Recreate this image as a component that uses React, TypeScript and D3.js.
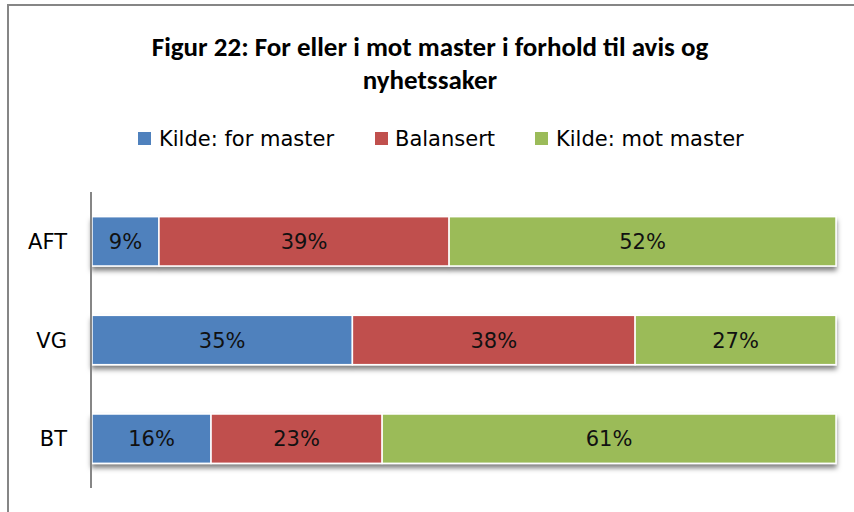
import React from "react";
import * as d3 from "d3";

const categories = ["AFT", "VG", "BT"];
const seriesNames = ["Kilde: for master", "Balansert", "Kilde: mot master"];
const forMaster = [9, 35, 16];
const balansert = [39, 38, 23];
const motMaster = [52, 27, 61];
const colors = ["#4F81BD", "#C0504D", "#9BBB59"];
const titleLines = ["Figur 22: For eller i mot master i forhold til avis og", "nyhetssaker"];

const TFONT = "Carlito, Calibri, 'Liberation Sans Narrow', 'Liberation Sans', sans-serif";
const FONT = "'DejaVu Sans', Verdana, sans-serif";

export default function App() {
  const W = 854, H = 512;
  const plotLeft = 92, plotRight = 836, plotTop = 192, plotBottom = 488;
  const x = d3.scaleLinear().domain([0, 100]).range([plotLeft, plotRight]);
  const y = d3.scaleBand().domain(categories).range([plotTop, plotBottom]).paddingInner(0.5).paddingOuter(0.25);

  const rows = categories.map((c, i) => ({ cat: c, a: forMaster[i], b: balansert[i], c: motMaster[i] }));
  const stack = d3.stack<any>().keys(["a", "b", "c"])(rows);

  const legendItems = [
    { x: 138, tx: 159 },
    { x: 375, tx: 395 },
    { x: 535, tx: 556 },
  ];

  return (
    <svg width={W} height={H} style={{ position: "absolute", left: 0, top: 0 }}>
      <defs>
        <filter id="sh" x="-5%" y="-20%" width="110%" height="160%">
          <feDropShadow dx="0" dy="4" stdDeviation="2.5" floodColor="#000" floodOpacity="0.5" />
        </filter>
      </defs>
      <rect x={0} y={0} width={W} height={H} fill="#fff" />
      <rect x={8} y={5} width={W + 10} height={H + 10} fill="#fff" stroke="#868686" strokeWidth={2} />
      {titleLines.map((t, i) => (
        <text key={i} x={430} y={56 + i * 33} textAnchor="middle" fontFamily={TFONT} fontWeight="bold" fontSize={27} fill="#000">
          {t}
        </text>
      ))}
      {seriesNames.map((n, i) => (
        <g key={n}>
          <rect x={legendItems[i].x} y={132} width={13} height={13} fill={colors[i]} />
          <text x={legendItems[i].tx} y={146} fontFamily={FONT} fontSize={21} fill="#000">{n}</text>
        </g>
      ))}
      <g filter="url(#sh)">
        {stack.map((s, si) =>
          s.map((d: any, di: number) => (
            <rect key={`${si}-${di}`} x={x(d[0])} y={y(categories[di])!} width={x(d[1]) - x(d[0])} height={y.bandwidth()}
              fill={colors[si]} stroke="#fff" strokeWidth={1.5} />
          ))
        )}
      </g>
      {stack.map((s, si) =>
        s.map((d: any, di: number) => (
          <text key={`t${si}-${di}`} x={(x(d[0]) + x(d[1])) / 2} y={y(categories[di])! + y.bandwidth() / 2 + 7.5}
            textAnchor="middle" fontFamily={FONT} fontSize={21} fill="#111">
            {`${d[1] - d[0]}%`}
          </text>
        ))
      )}
      <line x1={91} x2={91} y1={plotTop} y2={plotBottom} stroke="#868686" strokeWidth={2} />
      {categories.map((c) => (
        <text key={c} x={67} y={y(c)! + y.bandwidth() / 2 + 7.5} textAnchor="end" fontFamily={FONT} fontSize={21} fill="#000">{c}</text>
      ))}
    </svg>
  );
}
